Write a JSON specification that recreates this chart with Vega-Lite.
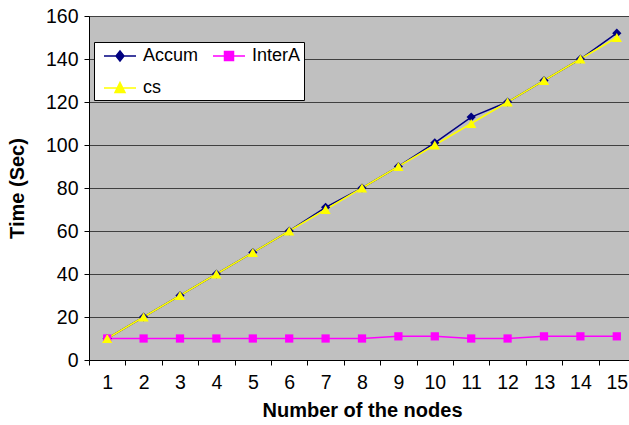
{
  "$schema": "https://vega.github.io/schema/vega-lite/v6.json",
  "width": 546,
  "height": 344,
  "autosize": {"type": "none"},
  "padding": {"left": 89, "top": 16, "right": 0, "bottom": 65},
  "background": "white",
  "config": {
    "font": "Liberation Sans",
    "view": {"fill": "#C0C0C0", "stroke": "#808080", "strokeWidth": 1}
  },
  "data": {
    "values": [
      {"n": 1, "series": "Accum", "t": 10}, {"n": 2, "series": "Accum", "t": 20}, {"n": 3, "series": "Accum", "t": 30},
      {"n": 4, "series": "Accum", "t": 40}, {"n": 5, "series": "Accum", "t": 50}, {"n": 6, "series": "Accum", "t": 60},
      {"n": 7, "series": "Accum", "t": 71}, {"n": 8, "series": "Accum", "t": 80}, {"n": 9, "series": "Accum", "t": 90},
      {"n": 10, "series": "Accum", "t": 101}, {"n": 11, "series": "Accum", "t": 113}, {"n": 12, "series": "Accum", "t": 120},
      {"n": 13, "series": "Accum", "t": 130}, {"n": 14, "series": "Accum", "t": 140}, {"n": 15, "series": "Accum", "t": 152},
      {"n": 1, "series": "InterA", "t": 10}, {"n": 2, "series": "InterA", "t": 10}, {"n": 3, "series": "InterA", "t": 10},
      {"n": 4, "series": "InterA", "t": 10}, {"n": 5, "series": "InterA", "t": 10}, {"n": 6, "series": "InterA", "t": 10},
      {"n": 7, "series": "InterA", "t": 10}, {"n": 8, "series": "InterA", "t": 10}, {"n": 9, "series": "InterA", "t": 11},
      {"n": 10, "series": "InterA", "t": 11}, {"n": 11, "series": "InterA", "t": 10}, {"n": 12, "series": "InterA", "t": 10},
      {"n": 13, "series": "InterA", "t": 11}, {"n": 14, "series": "InterA", "t": 11}, {"n": 15, "series": "InterA", "t": 11},
      {"n": 1, "series": "cs", "t": 10}, {"n": 2, "series": "cs", "t": 20}, {"n": 3, "series": "cs", "t": 30},
      {"n": 4, "series": "cs", "t": 40}, {"n": 5, "series": "cs", "t": 50}, {"n": 6, "series": "cs", "t": 60},
      {"n": 7, "series": "cs", "t": 70}, {"n": 8, "series": "cs", "t": 80}, {"n": 9, "series": "cs", "t": 90},
      {"n": 10, "series": "cs", "t": 100}, {"n": 11, "series": "cs", "t": 110}, {"n": 12, "series": "cs", "t": 120},
      {"n": 13, "series": "cs", "t": 130}, {"n": 14, "series": "cs", "t": 140}, {"n": 15, "series": "cs", "t": 150}
    ]
  },
  "encoding": {
    "x": {
      "field": "n",
      "type": "ordinal",
      "scale": {"type": "band", "paddingInner": 0, "paddingOuter": 0},
      "axis": {
        "title": "Number of the nodes",
        "titleFont": "Liberation Sans",
        "titleFontSize": 20,
        "titleFontWeight": "bold",
        "titleColor": "black",
        "titlePadding": 9,
        "labelFont": "Liberation Sans",
        "labelFontSize": 19.5,
        "labelColor": "black",
        "labelAngle": 0,
        "labelPadding": 8,
        "tickBand": "extent",
        "tickColor": "black",
        "tickSize": 5,
        "domainColor": "black",
        "grid": false
      }
    },
    "y": {
      "field": "t",
      "type": "quantitative",
      "scale": {"domain": [0, 160], "nice": false},
      "axis": {
        "title": "Time (Sec)",
        "titleFont": "Liberation Sans",
        "titleFontSize": 20,
        "titleFontWeight": "bold",
        "titleColor": "black",
        "titlePadding": 18,
        "labelFont": "Liberation Sans",
        "labelFontSize": 19.5,
        "labelColor": "black",
        "labelPadding": 6,
        "values": [0, 20, 40, 60, 80, 100, 120, 140, 160],
        "tickColor": "black",
        "tickSize": 5,
        "domainColor": "black",
        "grid": true,
        "gridColor": "#404040",
        "gridWidth": 1.2
      }
    }
  },
  "layer": [
    {
      "transform": [{"filter": "datum.series === 'Accum'"}],
      "mark": {"type": "line", "strokeWidth": 1.5, "color": "#000080"},
      "encoding": {}
    },
    {
      "transform": [{"filter": "datum.series === 'InterA'"}],
      "mark": {"type": "line", "strokeWidth": 1.5, "color": "#FF00FF"},
      "encoding": {}
    },
    {
      "transform": [{"filter": "datum.series === 'cs'"}],
      "mark": {"type": "line", "strokeWidth": 1.5, "color": "#FFFF00"},
      "encoding": {}
    },
    {
      "transform": [{"filter": "datum.series === 'Accum'"}],
      "mark": {"type": "point", "filled": true, "shape": "diamond", "size": 85, "color": "#000080", "opacity": 1}
    },
    {
      "transform": [{"filter": "datum.series === 'InterA'"}],
      "mark": {"type": "point", "filled": true, "shape": "square", "size": 68, "color": "#FF00FF", "opacity": 1}
    },
    {
      "transform": [{"filter": "datum.series === 'cs'"}],
      "mark": {"type": "point", "filled": true, "shape": "triangle-up", "size": 105, "color": "#FFFF00", "opacity": 1}
    },
    {
      "mark": {"type": "point", "filled": true, "opacity": 0},
      "encoding": {
        "color": {
          "field": "series",
          "type": "nominal",
          "scale": {"domain": ["Accum", "cs", "InterA"], "range": ["#000080", "#FFFF00", "#FF00FF"]},
          "legend": {
            "title": null,
            "orient": "none",
            "legendX": 5,
            "legendY": 26,
            "columns": 2,
            "columnPadding": 7,
            "rowPadding": 12,
            "padding": 3,
            "symbolOffset": 12,
            "labelOffset": 12,
            "symbolSize": 400,
            "symbolOpacity": 1,
            "labelFont": "Liberation Sans",
            "labelFontSize": 18,
            "labelColor": "black",
            "labelExpr": "datum.label == 'InterA' ? 'InterA  ' : datum.label",
            "fillColor": "white",
            "strokeColor": "black",
            "encode": {
              "symbols": {
                "update": {
                  "stroke": {"scale": "color", "field": "value"},
                  "strokeWidth": {"value": 1.5},
                  "opacity": {"value": 1}
                }
              }
            }
          }
        },
        "shape": {
          "field": "series",
          "type": "nominal",
          "scale": {
            "domain": ["Accum", "cs", "InterA"],
            "range": [
              "M-1.6,0H1.6M0,-0.5L0.4,0L0,0.5L-0.4,0Z",
              "M-1.6,0H1.6M0,-0.55L0.5,0.45H-0.5Z",
              "M-1.6,0H1.6M-0.45,-0.45H0.45V0.45H-0.45Z"
            ]
          }
        }
      }
    }
  ]
}
